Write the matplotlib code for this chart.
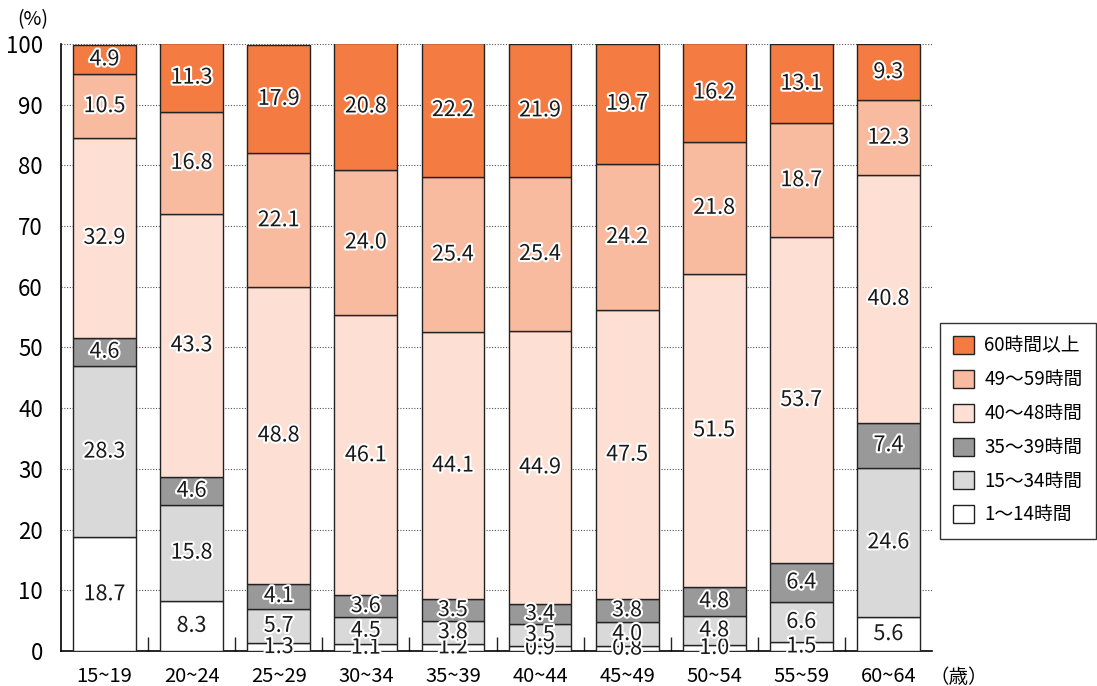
import numpy as np
import matplotlib
matplotlib.use('Agg')
import matplotlib.pyplot as plt
import matplotlib.patheffects as pe

plt.rcParams['font.family'] = ['Noto Sans CJK JP', 'DejaVu Sans']

ages = ['15~19', '20~24', '25~29', '30~34', '35~39',
        '40~44', '45~49', '50~54', '55~59', '60~64']
series = ['1～14時間', '15～34時間', '35～39時間', '40～48時間', '49～59時間', '60時間以上']

h_1_14 = [18.7, 8.3, 1.3, 1.1, 1.2, 0.9, 0.8, 1.0, 1.5, 5.6]
h_15_34 = [28.3, 15.8, 5.7, 4.5, 3.8, 3.5, 4.0, 4.8, 6.6, 24.6]
h_35_39 = [4.6, 4.6, 4.1, 3.6, 3.5, 3.4, 3.8, 4.8, 6.4, 7.4]
h_40_48 = [32.9, 43.3, 48.8, 46.1, 44.1, 44.9, 47.5, 51.5, 53.7, 40.8]
h_49_59 = [10.5, 16.8, 22.1, 24.0, 25.4, 25.4, 24.2, 21.8, 18.7, 12.3]
h_60 = [4.9, 11.3, 17.9, 20.8, 22.2, 21.9, 19.7, 16.2, 13.1, 9.3]

colors = ['#ffffff', '#d9d9d9', '#999999', '#fde0d3', '#f9bb9f', '#f47b42']

fig = plt.figure(figsize=(10.97, 6.86), dpi=100)
ax = fig.add_axes([0.0556, 0.051, 0.794, 0.885])

x = np.arange(len(ages))
bottom = np.zeros(len(ages))
halo = [pe.withStroke(linewidth=3, foreground='white')]
for vals, name, c in zip([h_1_14, h_15_34, h_35_39, h_40_48, h_49_59, h_60], series, colors):
    vals = np.array(vals)
    ax.bar(x, vals, 0.72, bottom=bottom, color=c, edgecolor='#222222',
           linewidth=1.0, label=name, zorder=3)
    for xi, b, v in zip(x, bottom, vals):
        ax.text(xi, b + v / 2, f'{v:.1f}', ha='center', va='center',
                fontsize=15.5, color='#1a1a1a', path_effects=halo, zorder=5)
    bottom += vals

ax.set_xlim(-0.5, 9.5)
ax.set_ylim(0, 100)
ax.set_yticks(range(0, 101, 10))
ax.set_xticks(x)
ax.set_xticklabels(ages)
ax.set_xticks(np.arange(0.5, 9.5, 1), minor=True)
ax.tick_params(axis='x', which='major', length=0, pad=11, labelsize=14.5)
ax.tick_params(axis='x', which='minor', direction='in', length=10, width=1, color='#222222')
ax.tick_params(axis='y', length=0, pad=13, labelsize=16)

for yv in range(10, 101, 10):
    ax.axhline(yv, color='#555555', linestyle=(0, (1, 1.5)), linewidth=0.8, zorder=1)

for s in ['top', 'right']:
    ax.spines[s].set_visible(False)
ax.spines['left'].set_linewidth(1.2)
ax.spines['bottom'].set_linewidth(1.2)

fig.text(0.016, 0.972, '(%)', fontsize=14, ha='left', va='center')
fig.text(0.847, 0.013, '（歳）', fontsize=14, ha='left', va='center')

h, l = ax.get_legend_handles_labels()
leg = fig.legend(h[::-1], l[::-1], loc='lower left', bbox_to_anchor=(0.857, 0.215),
                 fontsize=13.5, frameon=True, fancybox=False, edgecolor='black',
                 handlelength=1.1, handleheight=1.1, labelspacing=0.68,
                 borderpad=0.7, handletextpad=0.55, borderaxespad=0)
leg.get_frame().set_linewidth(1.0)

fig.savefig('out.png', dpi=100)
